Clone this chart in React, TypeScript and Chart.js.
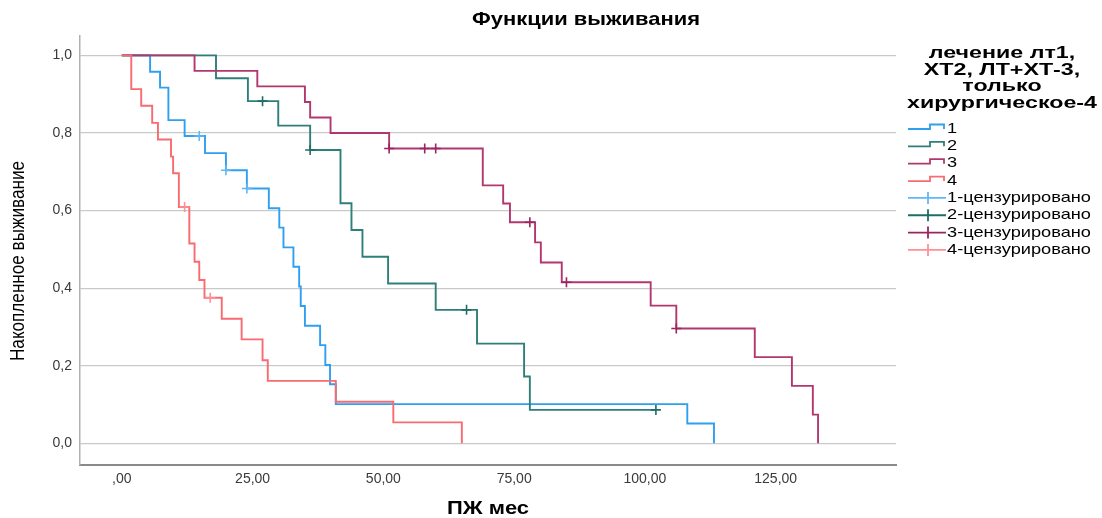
import React, { useEffect, useRef } from 'react';
import { Chart, registerables } from 'chart.js';

Chart.register(...registerables);

// ---------- text ----------
const chartTitle = 'Функции выживания';
const xAxisTitle = 'ПЖ мес';
const yAxisTitle = 'Накопленное выживание';
const legendTitleLines = ['лечение лт1,', 'ХТ2, ЛТ+ХТ-3,', 'только', 'хирургическое-4'];
const groupLabels = ['1', '2', '3', '4'];
const censorLabels = ['1-цензурировано', '2-цензурировано', '3-цензурировано', '4-цензурировано'];

// ---------- ticks ----------
const xTickValues = [0, 25, 50, 75, 100, 125];
const xTickLabels = [',00', '25,00', '50,00', '75,00', '100,00', '125,00'];
const yTickValues = [0, 0.2, 0.4, 0.6, 0.8, 1.0];
const yTickLabels = ['0,0', '0,2', '0,4', '0,6', '0,8', '1,0'];

// ---------- group 1 ----------
const g1Times = [0, 5.4, 7.3, 8.9, 12.0, 15.9, 19.9, 23.9, 28.1, 30.1, 30.9, 32.8, 33.9, 34.2, 35.0, 37.9, 38.9, 39.8, 40.9, 108.1, 113.2];
const g1Surv = [1, 0.958, 0.917, 0.833, 0.792, 0.748, 0.704, 0.657, 0.606, 0.556, 0.505, 0.455, 0.404, 0.354, 0.303, 0.253, 0.202, 0.152, 0.101, 0.051, 0];
const g1CensorTimes = [14.8, 19.9, 23.9];
const g1CensorSurv = [0.792, 0.704, 0.657];

// ---------- group 2 ----------
const g2Times = [0, 18.0, 24.1, 29.9, 36.0, 41.8, 43.9, 46.0, 50.9, 60.0, 67.9, 76.9, 78.0, 102.1];
const g2Surv = [1, 0.941, 0.882, 0.819, 0.756, 0.619, 0.55, 0.481, 0.412, 0.344, 0.257, 0.172, 0.086, 0.086];
const g2CensorTimes = [26.9, 36.0, 65.9, 102.1];
const g2CensorSurv = [0.882, 0.756, 0.344, 0.086];

// ---------- group 3 ----------
const g3Times = [0, 13.9, 25.9, 35.0, 36.0, 39.9, 51.1, 69.0, 72.9, 74.2, 79.0, 80.1, 84.1, 101.1, 106.0, 121.0, 128.1, 132.1, 133.1];
const g3Surv = [1, 0.96, 0.92, 0.88, 0.84, 0.8, 0.76, 0.665, 0.618, 0.57, 0.518, 0.466, 0.415, 0.355, 0.296, 0.222, 0.148, 0.074, 0];
const g3CensorTimes = [51.1, 57.9, 60.0, 78.0, 85.0, 106.0];
const g3CensorSurv = [0.76, 0.76, 0.76, 0.57, 0.415, 0.296];

// ---------- group 4 ----------
const g4Times = [0, 1.8, 3.7, 5.8, 6.9, 9.4, 9.8, 10.9, 12.9, 13.9, 14.8, 15.8, 19.1, 22.9, 26.9, 27.9, 40.9, 51.9, 65.0];
const g4Surv = [1, 0.913, 0.87, 0.826, 0.783, 0.739, 0.696, 0.609, 0.515, 0.468, 0.421, 0.375, 0.321, 0.268, 0.214, 0.161, 0.107, 0.054, 0];
const g4CensorTimes = [12.0, 16.9];
const g4CensorSurv = [0.609, 0.375];

// ---------- styles ----------
const lineColors = ['#2f9fef', '#2f7f79', '#b2376f', '#f86b70'];
const censorColors = ['#62b8f3', '#1f6d66', '#9a2560', '#ff8f98'];
const FONT = '"Liberation Sans", Arial, sans-serif';

const toPts = (t: number[], s: number[]) => t.map((x, i) => ({ x, y: s[i] }));

function fillFitted(ctx: CanvasRenderingContext2D, text: string, x: number, y: number, width: number, align: CanvasTextAlign) {
  const w = ctx.measureText(text).width;
  const s = width / w;
  ctx.save();
  ctx.translate(x, y);
  ctx.scale(s, 1);
  ctx.textAlign = align;
  ctx.fillText(text, 0, 0);
  ctx.restore();
}

const textPlugin = {
  id: 'spssText',
  afterDraw(chart: any) {
    const ctx: CanvasRenderingContext2D = chart.ctx;
    ctx.save();
    ctx.fillStyle = '#000';
    ctx.textBaseline = 'middle';

    // main title
    ctx.font = `bold 19px ${FONT}`;
    fillFitted(ctx, chartTitle, 472, 20, 228, 'left');

    // x title
    ctx.font = `bold 19px ${FONT}`;
    fillFitted(ctx, xAxisTitle, 488, 509, 82, 'center');

    // y title
    ctx.save();
    ctx.translate(18.5, 261);
    ctx.rotate(-Math.PI / 2);
    ctx.font = `21px "Liberation Sans Narrow", ${FONT}`;
    fillFitted(ctx, yAxisTitle, 0, 0, 200, 'center');
    ctx.restore();

    // legend title
    ctx.font = `bold 17px ${FONT}`;
    const tScale = 190 / ctx.measureText(legendTitleLines[3]).width;
    const titleYs = [53, 70, 86.5, 103];
    legendTitleLines.forEach((line, i) => {
      const w = ctx.measureText(line).width * tScale;
      fillFitted(ctx, line, 1002, titleYs[i], w, 'center');
    });

    // legend items
    ctx.font = `15px ${FONT}`;
    const iScale = 144 / ctx.measureText(censorLabels[0]).width;
    const itemY0 = 128.5;
    const step = 17.35;
    const items = [...groupLabels, ...censorLabels];
    items.forEach((label, i) => {
      const yc = itemY0 + i * step;
      const g = i % 4;
      ctx.lineWidth = 1.8;
      if (i < 4) {
        ctx.strokeStyle = lineColors[g];
        ctx.beginPath();
        ctx.moveTo(908, yc + 0.5);
        ctx.lineTo(930, yc + 0.5);
        ctx.lineTo(930, yc - 4);
        ctx.lineTo(944, yc - 4);
        ctx.lineTo(944, yc + 0.5);
        ctx.stroke();
      } else {
        ctx.strokeStyle = censorColors[g];
        ctx.beginPath();
        ctx.moveTo(908, yc);
        ctx.lineTo(946, yc);
        ctx.moveTo(928, yc - 6);
        ctx.lineTo(928, yc + 6);
        ctx.stroke();
      }
      ctx.fillStyle = '#000';
      const w = ctx.measureText(label).width * iScale;
      fillFitted(ctx, label, 947, yc, w, 'left');
    });
    ctx.restore();
  },
};

export default function App() {
  const ref = useRef<HTMLCanvasElement | null>(null);

  useEffect(() => {
    if (!ref.current) return;
    const lineSets = [
      { t: g1Times, s: g1Surv, order: 4 },
      { t: g2Times, s: g2Surv, order: 3 },
      { t: g3Times, s: g3Surv, order: 2 },
      { t: g4Times, s: g4Surv, order: 1 },
    ].map((d, i) => ({
      label: groupLabels[i],
      data: toPts(d.t, d.s),
      borderColor: lineColors[i],
      borderWidth: 1.9,
      stepped: 'before' as const,
      pointRadius: 0,
      fill: false,
      order: d.order,
    }));
    const censorSets = [
      { t: g1CensorTimes, s: g1CensorSurv },
      { t: g2CensorTimes, s: g2CensorSurv },
      { t: g3CensorTimes, s: g3CensorSurv },
      { t: g4CensorTimes, s: g4CensorSurv },
    ].map((d, i) => ({
      label: censorLabels[i],
      data: toPts(d.t, d.s),
      borderColor: censorColors[i],
      backgroundColor: censorColors[i],
      showLine: false,
      pointStyle: 'cross' as const,
      pointRadius: 5,
      pointBorderWidth: 1.6,
      order: 0,
    }));

    const chart = new Chart(ref.current, {
      type: 'line',
      data: { datasets: [...lineSets, ...censorSets] as any },
      options: {
        responsive: false,
        animation: false,
        devicePixelRatio: 1,
        events: [],
        layout: { padding: { left: 0, right: 206, top: 36, bottom: 0 } },
        plugins: { legend: { display: false }, tooltip: { enabled: false }, title: { display: false } },
        scales: {
          x: {
            type: 'linear',
            min: -8,
            max: 148,
            grid: { display: false, drawTicks: false },
            border: { display: true, color: '#8a8a8a', width: 2 },
            ticks: {
              stepSize: 25,
              includeBounds: false,
              padding: 6,
              color: '#3a3a3a',
              font: { family: FONT, size: 14 },
              maxRotation: 0,
              autoSkip: false,
              callback: (v: any) => {
                const i = xTickValues.findIndex((tv) => Math.abs(tv - Number(v)) < 1e-6);
                return i >= 0 ? xTickLabels[i] : '';
              },
            },
            afterFit: (scale: any) => {
              scale.height = 53;
            },
          },
          y: {
            type: 'linear',
            min: -0.056,
            max: 1.05,
            grid: { display: true, drawTicks: false, color: '#c9c9c9', lineWidth: 1.2 },
            border: { display: true, color: '#b0b0b0', width: 1.5 },
            ticks: {
              stepSize: 0.2,
              includeBounds: false,
              padding: 8,
              color: '#3a3a3a',
              font: { family: FONT, size: 14 },
              callback: (v: any) => {
                const i = yTickValues.findIndex((tv) => Math.abs(tv - Number(v)) < 1e-6);
                return i >= 0 ? yTickLabels[i] : '';
              },
            },
            afterFit: (scale: any) => {
              scale.width = 80;
            },
          },
        },
      },
      plugins: [textPlugin],
    });
    return () => chart.destroy();
  }, []);

  return (
    <div style={{ position: 'absolute', left: 0, top: 0, width: 1102, height: 518, background: '#fff' }}>
      <canvas ref={ref} width={1102} height={518} style={{ display: 'block', width: 1102, height: 518 }} />
    </div>
  );
}
